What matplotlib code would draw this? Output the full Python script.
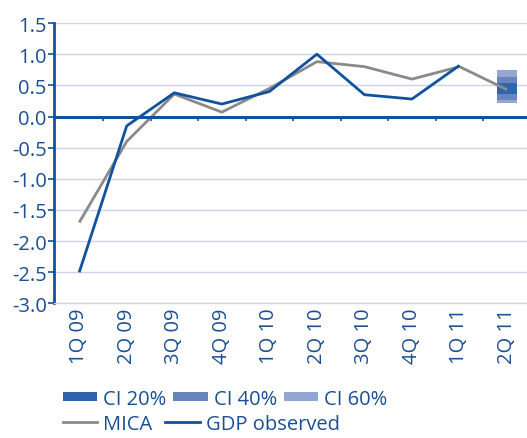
import matplotlib
matplotlib.use("Agg")
import matplotlib.pyplot as plt
import numpy as np
from matplotlib.lines import Line2D
from matplotlib.patches import Patch

plt.rcParams['font.family'] = ['Open Sans', 'DejaVu Sans']
plt.rcParams['font.weight'] = 'medium'

categories = ["1Q 09", "2Q 09", "3Q 09", "4Q 09", "1Q 10", "2Q 10", "3Q 10", "4Q 10", "1Q 11", "2Q 11"]
gdp_observed = [-2.5, -0.15, 0.38, 0.20, 0.40, 1.00, 0.35, 0.28, 0.82]
mica = [-1.70, -0.40, 0.36, 0.07, 0.45, 0.88, 0.80, 0.60, 0.80, 0.43]
ci_labels = ["CI 20%", "CI 40%", "CI 60%"]
ci_low = [0.36, 0.27, 0.21]
ci_high = [0.54, 0.64, 0.74]
yticks = [-3.0, -2.5, -2.0, -1.5, -1.0, -0.5, 0.0, 0.5, 1.0, 1.5]
ytick_labels = ["-3.0", "-2.5", "-2.0", "-1.5", "-1.0", "-0.5", "0.0", "0.5", "1.0", "1.5"]

BLUE = "#11529f"
TEXT = "#1a4f94"
GRID = "#cdd4ea"
GRAY = "#8a8a8a"
ci_colors = ["#2f65ab", "#6884bd", "#94a7d3"]
FS = 14.5

fig = plt.figure(figsize=(5.27, 4.39), dpi=100)
ax = fig.add_axes([0.1034, 0.3064, 0.8966, 0.6389])

x = np.arange(len(categories))

# CI boxes (widest drawn first)
forecast_idx = len(categories) - 1
for lo, hi, c in reversed(list(zip(ci_low, ci_high, ci_colors))):
    ax.bar(forecast_idx, hi - lo, bottom=lo, width=0.42, color=c, zorder=2, linewidth=0)

ax.plot(x[:len(gdp_observed)], gdp_observed, color=BLUE, lw=2.0, zorder=4, solid_capstyle='butt')
ax.plot(x, mica, color=GRAY, lw=2.0, zorder=3, solid_capstyle='butt')

ax.set_xlim(-0.52, 9.42)
ax.set_ylim(-3.0, 1.5)
ax.set_yticks(yticks)
ax.set_yticklabels(ytick_labels)
ax.set_xticks(x)
ax.set_xticklabels(categories, rotation=90, va='top', ha='center')

ax.grid(axis='y', color=GRID, lw=1.0, zorder=0)
ax.set_axisbelow(True)
for s in ['top', 'right']:
    ax.spines[s].set_visible(False)
ax.spines['bottom'].set_color(GRID)
ax.spines['bottom'].set_linewidth(1.0)
ax.spines['left'].set_color(BLUE)
ax.spines['left'].set_linewidth(2.0)
ax.tick_params(axis='y', colors=TEXT, color=BLUE, length=4, width=1.2, labelsize=FS, pad=1.5)
ax.tick_params(axis='x', colors=TEXT, length=0, labelsize=FS, pad=3)

# zero axis line and small ticks between categories
ax.axhline(0, color=BLUE, lw=2.2, zorder=3.5)
sec = ax.secondary_xaxis(2.0 / 3.0)
sec.set_xticks(np.arange(0.5, len(categories) - 0.5, 1.0))
sec.tick_params(direction='in', length=3, width=1.2, color=BLUE, labelbottom=False, labeltop=False)
sec.spines['bottom'].set_visible(False)
sec.spines['top'].set_visible(False)

# legends
ci_handles = [Patch(facecolor=c, edgecolor='none') for c in ci_colors]
leg1 = fig.legend(ci_handles, ci_labels, loc='center left', bbox_to_anchor=(0.119, 1 - 400 / 439),
                  ncol=3, frameon=False, fontsize=FS, handlelength=1.7, handleheight=0.3,
                  handletextpad=0.3, columnspacing=0.35, borderaxespad=0, borderpad=0)
for t in leg1.get_texts():
    t.set_color(TEXT)
line_handles = [Line2D([], [], color=GRAY, lw=2.0), Line2D([], [], color=BLUE, lw=2.0)]
leg2 = fig.legend(line_handles, ["MICA", "GDP observed"], loc='center left', bbox_to_anchor=(0.119, 1 - 425 / 439),
                  ncol=2, frameon=False, fontsize=FS, handlelength=1.7,
                  handletextpad=0.3, columnspacing=0.65, borderaxespad=0, borderpad=0)
for t in leg2.get_texts():
    t.set_color(TEXT)

fig.savefig("out.png", dpi=100)
